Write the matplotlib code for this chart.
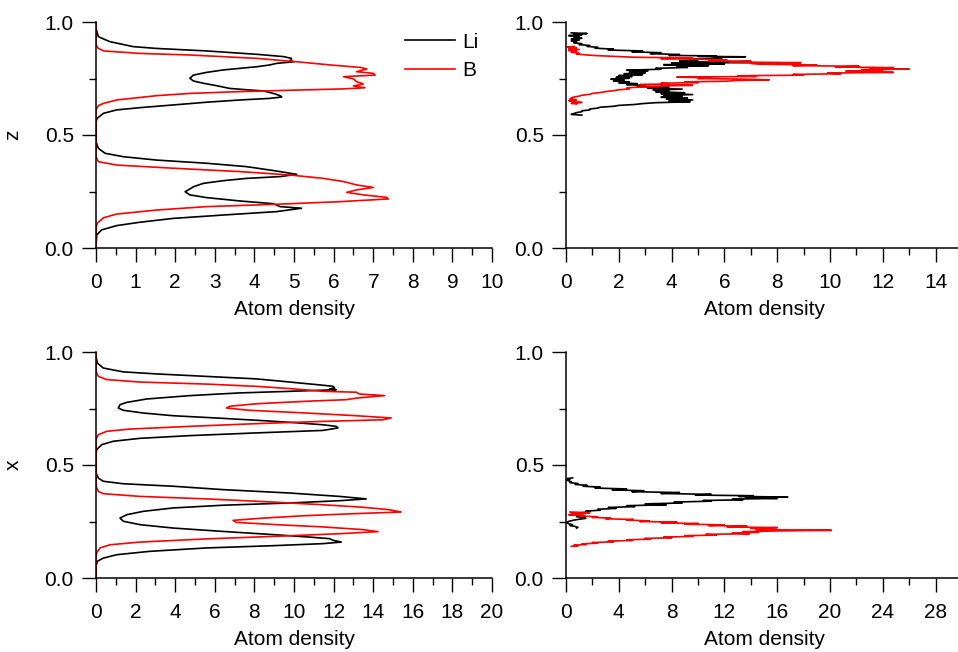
import matplotlib
matplotlib.use("agg")
import matplotlib.pyplot as plt
from matplotlib.ticker import MultipleLocator

plt.rcParams["font.family"] = ["Liberation Sans", "DejaVu Sans"]
plt.rcParams["font.size"] = 15

# ---- top-left: density along z (Li / B) ----
TL_LI_Z = [1.0, 0.972, 0.935, 0.913, 0.891, 0.883, 0.872, 0.857, 0.847, 0.839, 0.830, 0.824, 0.817,
           0.810, 0.802, 0.795, 0.788, 0.777, 0.765, 0.751, 0.739, 0.729, 0.718, 0.706, 0.699, 0.695,
           0.684, 0.674, 0.668, 0.662, 0.655, 0.645, 0.633, 0.621, 0.611, 0.596, 0.574, 0.559,
           0.470, 0.441, 0.419, 0.404, 0.389, 0.375, 0.360, 0.345, 0.338, 0.326, 0.316, 0.308, 0.298,
           0.286, 0.271, 0.261, 0.249, 0.235, 0.223, 0.208, 0.196, 0.183, 0.176, 0.161, 0.146, 0.131,
           0.114, 0.099, 0.080, 0.058, 0.013, 0.0]
TL_LI_D = [0, 0, 0.06, 0.35, 0.94, 1.53, 2.79, 4.06, 4.73, 4.94, 4.90, 5.00, 4.56,
           4.39, 4.06, 3.64, 3.22, 2.79, 2.46, 2.37, 2.46, 2.71, 3.05, 3.38, 3.89, 4.23,
           4.48, 4.65, 4.69, 4.39, 3.64, 2.79, 1.95, 1.11, 0.52, 0.19, 0.03, 0,
           0, 0.06, 0.23, 0.69, 1.53, 2.79, 3.80, 4.39, 4.65, 5.07, 4.65, 3.80, 3.22,
           2.71, 2.46, 2.37, 2.25, 2.37, 2.79, 3.64, 4.48, 4.65, 5.19, 4.56, 3.22, 1.95,
           1.11, 0.52, 0.14, 0.02, 0, 0]
TL_B_Z = [1.0, 0.898, 0.883, 0.872, 0.861, 0.854, 0.839, 0.824, 0.810, 0.799, 0.792, 0.780, 0.773,
          0.765, 0.758, 0.748, 0.736, 0.726, 0.717, 0.709, 0.704, 0.698, 0.692, 0.684, 0.674, 0.655,
          0.640, 0.630, 0.611,
          0.404, 0.382, 0.367, 0.353, 0.338, 0.323, 0.308, 0.294, 0.279, 0.268, 0.257, 0.246, 0.235,
          0.224, 0.217, 0.205, 0.193, 0.183, 0.168, 0.150, 0.134, 0.109, 0.087, 0.0]
TL_B_D = [0, 0, 0.06, 0.19, 1.11, 2.37, 4.06, 5.07, 5.91, 6.67, 6.84, 6.58, 7.00,
          7.05, 6.25, 6.50, 6.58, 6.75, 6.50, 6.79, 6.25, 4.90, 3.64, 2.37, 1.53, 0.52,
          0.19, 0.06, 0,
          0, 0.06, 0.52, 1.95, 3.64, 4.90, 5.74, 6.25, 6.58, 7.00, 6.58, 6.33, 6.75,
          7.34, 7.38, 6.16, 4.48, 2.79, 1.53, 0.52, 0.19, 0.03, 0, 0]

# ---- top-right: density along z (Li / B), noisy ----
TR_LI_Z = [0.952, 0.949, 0.946, 0.943, 0.940, 0.936, 0.932, 0.928, 0.924, 0.920, 0.916, 0.912, 0.908,
           0.904, 0.900, 0.896, 0.892, 0.888, 0.884, 0.880, 0.876, 0.872, 0.868, 0.864, 0.860, 0.856,
           0.852, 0.850, 0.848, 0.846, 0.843, 0.840, 0.836, 0.832, 0.828, 0.824, 0.821, 0.818, 0.814,
           0.811, 0.807, 0.803, 0.799, 0.795, 0.791, 0.787, 0.783, 0.779, 0.775, 0.771, 0.767, 0.763,
           0.759, 0.755, 0.751, 0.747, 0.743, 0.739, 0.735, 0.731, 0.727, 0.723, 0.719, 0.715, 0.711,
           0.707, 0.703, 0.699, 0.695, 0.691, 0.687, 0.683, 0.679, 0.675, 0.671, 0.667, 0.663, 0.659,
           0.655, 0.651, 0.647, 0.643, 0.639, 0.635, 0.631, 0.627, 0.623, 0.619, 0.615, 0.611, 0.607,
           0.603, 0.599, 0.595, 0.591, 0.588]
TR_LI_D = [0.2, 0.8, 0.3, 0.6, 0.1, 0.5, 0.3, 0.6, 0.2, 0.5, 0.2, 0.4, 0.3,
           0.6, 0.5, 0.9, 0.8, 1.2, 1.1, 1.8, 1.6, 2.9, 2.5, 3.6, 3.2, 4.3,
           3.9, 5.7, 5.0, 6.8, 5.6, 5.9, 4.7, 5.0, 4.3, 4.5, 7.0, 4.0, 6.0,
           3.7, 5.4, 4.2, 4.6, 3.4, 3.6, 2.3, 3.1, 2.4, 3.0, 2.2, 2.9, 2.0,
           2.5, 1.9, 2.4, 1.7, 2.2, 1.8, 2.4, 2.0, 2.7, 2.3, 3.0, 2.7, 3.9,
           3.1, 4.4, 3.3, 3.9, 3.4, 4.5, 3.6, 4.8, 3.7, 4.4, 3.6, 4.6, 3.8,
           4.8, 3.9, 4.7, 3.4, 2.9, 2.6, 2.0, 1.8, 1.3, 1.2, 0.9, 0.9, 0.6,
           0.6, 0.4, 0.3, 0.2, 0.6]
TR_B_Z = [0.892, 0.889, 0.886, 0.882, 0.878, 0.874, 0.870, 0.866, 0.862, 0.858, 0.854, 0.851, 0.847,
          0.844, 0.841, 0.838, 0.835, 0.832, 0.829, 0.826, 0.823, 0.820, 0.817, 0.813, 0.810, 0.807,
          0.804, 0.801, 0.798, 0.795, 0.792, 0.789, 0.786, 0.783, 0.780, 0.777, 0.774, 0.771, 0.768,
          0.765, 0.762, 0.759, 0.756, 0.753, 0.750, 0.747, 0.744, 0.741, 0.738, 0.735, 0.732, 0.729,
          0.726, 0.723, 0.720, 0.717, 0.714, 0.711, 0.708, 0.704, 0.700, 0.696, 0.692, 0.688, 0.684,
          0.680, 0.676, 0.672, 0.668, 0.664, 0.660, 0.656, 0.652, 0.648, 0.644, 0.640, 0.637]
TR_B_D = [0.3, 0.05, 0.4, 0.1, 0.5, 0.1, 0.4, 0.2, 0.5, 0.4, 0.8, 1.2, 2.0,
          2.6, 4.8, 3.6, 5.2, 6.1, 5.4, 7.0, 6.2, 8.9, 7.0, 7.4, 9.5, 8.6,
          11.1, 10.2, 12.4, 11.5, 13.0, 11.2, 12.0, 10.6, 11.0, 12.4, 9.9, 10.4, 8.6,
          9.0, 6.5, 7.2, 4.2, 5.5, 5.0, 6.8, 7.7, 6.4, 6.1, 4.5, 5.0, 3.6,
          3.9, 2.8, 4.8, 3.7, 3.6, 2.6, 2.3, 2.4, 2.0, 1.8, 1.5, 1.3, 1.0,
          0.9, 0.6, 0.5, 0.3, 0.2, 0.15, 0.4, 0.1, 0.3, 0.6, 0.2, 0.4]

# ---- bottom-left: density along x (Li / B) ----
BL_LI_X = [1.0, 0.981, 0.951, 0.929, 0.912, 0.903, 0.892, 0.881, 0.870, 0.860, 0.853, 0.848, 0.841,
           0.836, 0.833, 0.826, 0.819, 0.807, 0.792, 0.777, 0.767, 0.752, 0.742, 0.730, 0.718, 0.708,
           0.698, 0.689, 0.678, 0.671, 0.664, 0.653, 0.642, 0.630, 0.618, 0.605, 0.590, 0.568, 0.546,
           0.465, 0.442, 0.428, 0.417, 0.406, 0.391, 0.376, 0.361, 0.350, 0.342, 0.332, 0.322, 0.310,
           0.295, 0.280, 0.265, 0.251, 0.236, 0.221, 0.206, 0.192, 0.181, 0.174, 0.167, 0.159, 0.152,
           0.143, 0.133, 0.118, 0.103, 0.088, 0.074, 0.052, 0.0]
BL_LI_D = [0, 0, 0.07, 0.37, 1.38, 3.06, 5.58, 8.10, 9.45, 10.62, 11.46, 11.97, 12.05,
           11.80, 12.13, 9.78, 7.26, 4.74, 2.55, 1.55, 1.21, 1.13, 1.38, 2.39, 3.90, 6.08,
           8.10, 9.78, 11.46, 12.13, 12.22, 11.46, 8.10, 4.74, 2.22, 0.87, 0.29, 0.03, 0,
           0, 0.12, 0.37, 1.38, 3.90, 6.42, 9.78, 12.30, 13.65, 12.30, 9.78, 6.42, 3.90,
           2.39, 1.55, 1.21, 1.38, 2.22, 3.90, 6.42, 8.94, 10.79, 11.80, 11.97, 12.39, 11.46,
           8.94, 5.58, 2.72, 1.04, 0.37, 0.07, 0, 0]
BL_B_X = [1.0, 0.914, 0.892, 0.878, 0.867, 0.858, 0.848, 0.838, 0.826, 0.822, 0.814, 0.807, 0.796,
          0.789, 0.782, 0.771, 0.760, 0.752, 0.742, 0.730, 0.718, 0.708, 0.700, 0.693, 0.683, 0.671,
          0.659, 0.649, 0.634, 0.612,
          0.406, 0.383, 0.373, 0.361, 0.350, 0.336, 0.324, 0.313, 0.302, 0.292, 0.285, 0.276, 0.265,
          0.255, 0.246, 0.236, 0.226, 0.214, 0.205, 0.196, 0.184, 0.173, 0.159, 0.147, 0.133, 0.111,
          0.088, 0.0]
BL_B_D = [0, 0, 0.12, 0.54, 2.22, 5.58, 8.10, 9.78, 11.46, 13.14, 13.31, 14.57, 13.14,
          12.64, 10.62, 8.10, 6.76, 6.59, 7.76, 10.62, 13.14, 14.91, 14.49, 11.46, 8.10, 4.74,
          1.71, 0.54, 0.12, 0,
          0, 0.12, 0.37, 2.22, 5.58, 8.94, 11.46, 13.48, 14.82, 15.41, 13.14, 10.62, 8.44,
          6.92, 7.09, 9.11, 11.46, 13.48, 14.24, 12.30, 8.94, 5.58, 2.22, 0.71, 0.20, 0.03,
          0, 0]

# ---- bottom-right: density along x (Li / B), noisy ----
BR_LI_X = [0.443, 0.440, 0.437, 0.434, 0.430, 0.426, 0.422, 0.418, 0.414, 0.410, 0.406, 0.402, 0.398,
           0.394, 0.390, 0.386, 0.382, 0.378, 0.374, 0.370, 0.367, 0.364, 0.361, 0.358, 0.355, 0.352,
           0.349, 0.346, 0.343, 0.340, 0.336, 0.332, 0.328, 0.324, 0.320, 0.316, 0.312, 0.308, 0.304,
           0.300, 0.296, 0.292, 0.288, 0.284, 0.280, 0.276, 0.272, 0.268, 0.264, 0.260, 0.256, 0.252,
           0.248, 0.244, 0.240, 0.236, 0.232, 0.228, 0.224, 0.221]
BR_LI_D = [0.5, 0.1, 0.3, 0.05, 0.2, 0.4, 0.3, 0.9, 0.7, 1.6, 1.3, 2.6, 2.2,
           4.6, 3.5, 5.9, 5.0, 8.6, 7.2, 11.0, 9.8, 14.2, 13.1, 16.8, 13.6, 16.0,
           12.6, 13.4, 10.4, 11.0, 8.2, 8.8, 6.0, 7.6, 4.6, 5.2, 3.2, 3.8, 2.4,
           2.6, 1.5, 1.8, 1.0, 1.2, 0.8, 1.0, 0.8, 1.2, 1.5, 1.0, 0.6, 0.3,
           0.1, 0.05, 0.2, 0.5, 0.3, 0.7, 0.9, 0.8]
BR_B_X = [0.292, 0.289, 0.286, 0.283, 0.280, 0.277, 0.274, 0.271, 0.268, 0.265, 0.262, 0.259, 0.256,
          0.253, 0.250, 0.247, 0.244, 0.241, 0.238, 0.235, 0.232, 0.229, 0.226, 0.223, 0.220, 0.217,
          0.214, 0.211, 0.208, 0.205, 0.202, 0.199, 0.196, 0.193, 0.190, 0.187, 0.184, 0.181, 0.178,
          0.175, 0.172, 0.169, 0.166, 0.163, 0.160, 0.157, 0.154, 0.151, 0.148, 0.145, 0.142, 0.140]
BR_B_D = [0.3, 1.8, 0.4, 1.1, 0.2, 1.4, 1.0, 2.4, 2.0, 3.4, 3.0, 5.1, 4.6,
          6.3, 5.6, 8.4, 7.2, 10.0, 9.0, 12.0, 10.8, 13.7, 12.2, 16.0, 14.0, 15.4,
          14.4, 20.1, 15.8, 13.4, 14.6, 12.6, 13.9, 10.6, 11.4, 9.0, 9.6, 7.4, 8.0,
          6.0, 6.4, 4.6, 5.0, 3.2, 3.6, 2.0, 2.4, 1.2, 1.5, 0.6, 0.9, 0.4]

W, H = 958, 652


def make_axes(fig, left, top, xmax, major, minor):
	ax = fig.add_axes([left / W, (H - top - 226) / H, 396 / W, 226 / H])
	ax.set_xlim(0, xmax)
	ax.set_ylim(0, 1.0)
	ax.xaxis.set_major_locator(MultipleLocator(major))
	ax.xaxis.set_minor_locator(MultipleLocator(minor))
	ax.yaxis.set_major_locator(MultipleLocator(0.5))
	ax.yaxis.set_minor_locator(MultipleLocator(0.25))
	ax.yaxis.set_major_formatter(matplotlib.ticker.FormatStrFormatter("%.1f"))
	for side in ("top", "right"):
		ax.spines[side].set_visible(False)
	for side in ("left", "bottom"):
		ax.spines[side].set_linewidth(1.1)
	ax.tick_params(which="major", direction="out", length=10, width=1.0)
	ax.tick_params(which="minor", direction="out", length=5, width=1.0)
	ax.tick_params(axis="x", pad=8)
	ax.tick_params(axis="y", pad=6)
	ax.set_xlabel("Atom density", labelpad=6)
	return ax


fig = plt.figure(figsize=(W / 100, H / 100), dpi=100)

ax = make_axes(fig, 96, 22, 10, 1, 0.5)
ax.plot(TL_LI_D, TL_LI_Z, color="black", lw=1.2, label="Li")
ax.plot(TL_B_D, TL_B_Z, color="red", lw=1.2, label="B")
ax.set_ylabel("z", labelpad=16)
ax.legend(loc="upper left", bbox_to_anchor=(0.758, 0.99), frameon=False,
		  handlelength=2.4, handletextpad=0.35, labelspacing=0.45, borderaxespad=0)

ax = make_axes(fig, 566, 22, 15, 2, 1)
ax.plot(TR_LI_D, TR_LI_Z, color="black", lw=1.2)
ax.plot(TR_B_D, TR_B_Z, color="red", lw=1.2)

ax = make_axes(fig, 96, 352, 20, 2, 1)
ax.plot(BL_LI_D, BL_LI_X, color="black", lw=1.2)
ax.plot(BL_B_D, BL_B_X, color="red", lw=1.2)
ax.set_ylabel("x", labelpad=16)

ax = make_axes(fig, 566, 352, 30, 4, 2)
ax.plot(BR_LI_D, BR_LI_X, color="black", lw=1.2)
ax.plot(BR_B_D, BR_B_X, color="red", lw=1.2)

plt.savefig("out.png", dpi=100)
